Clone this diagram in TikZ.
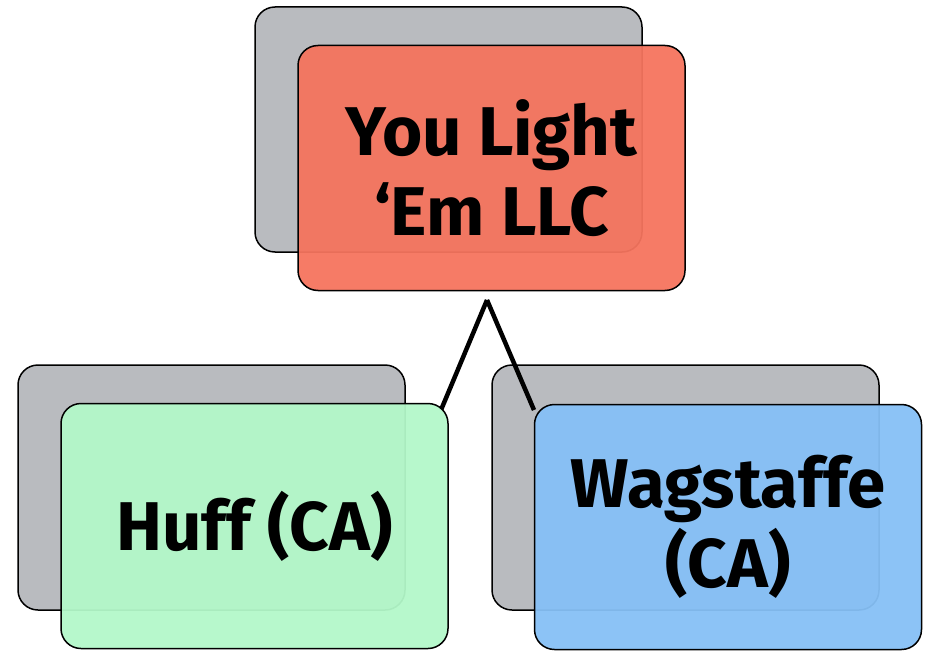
\documentclass[tikz,border=0pt]{standalone}
\usepackage{fontspec}
\setmainfont{Fira Sans}

\definecolor{cardred}{RGB}{245,116,94}
\definecolor{cardgreen}{RGB}{179,248,201}
\definecolor{cardblue}{RGB}{134,192,246}
\definecolor{cardgray}{RGB}{185,187,191}

\begin{document}
\begin{tikzpicture}[x=1pt, y=-1pt,
    card/.style={draw=black, line width=1.5pt, rounded corners=20pt,
      minimum width=387pt, minimum height=245pt, inner sep=0pt,
      align=center, font=\bfseries\fontsize{69}{80}\selectfont,
      fill opacity=0.95, text opacity=1},
    backcard/.style={card, fill=cardgray, fill opacity=1},
    link/.style={line width=4.5pt}]
    \useasboundingbox (0,0) rectangle (928,650);

    % Gray cards behind
    \node[backcard] (co back) at (448.5,129.5) {};
    \node[backcard] (huff back) at (211.5,487.5) {};
    \node[backcard] (wag back) at (685.5,487.5) {};

    % Fork under the company
    \coordinate (fork) at (487,300);
    \coordinate (huff corner) at (441,410);
    \coordinate (wag corner) at (534,410);
    \draw[link] (fork) -- (huff corner);
    \draw[link] (fork) -- (wag corner);

    % Front cards
    \node[card, fill=cardred] (co) at (491.5,168) {You Light\\`Em LLC};
    \node[card, fill=cardgreen] (huff) at (254.5,526) {Huff (CA)};
    \node[card, fill=cardblue] (wag) at (728,527) {Wagstaffe\\(CA)};
  \end{tikzpicture}
\end{document}
